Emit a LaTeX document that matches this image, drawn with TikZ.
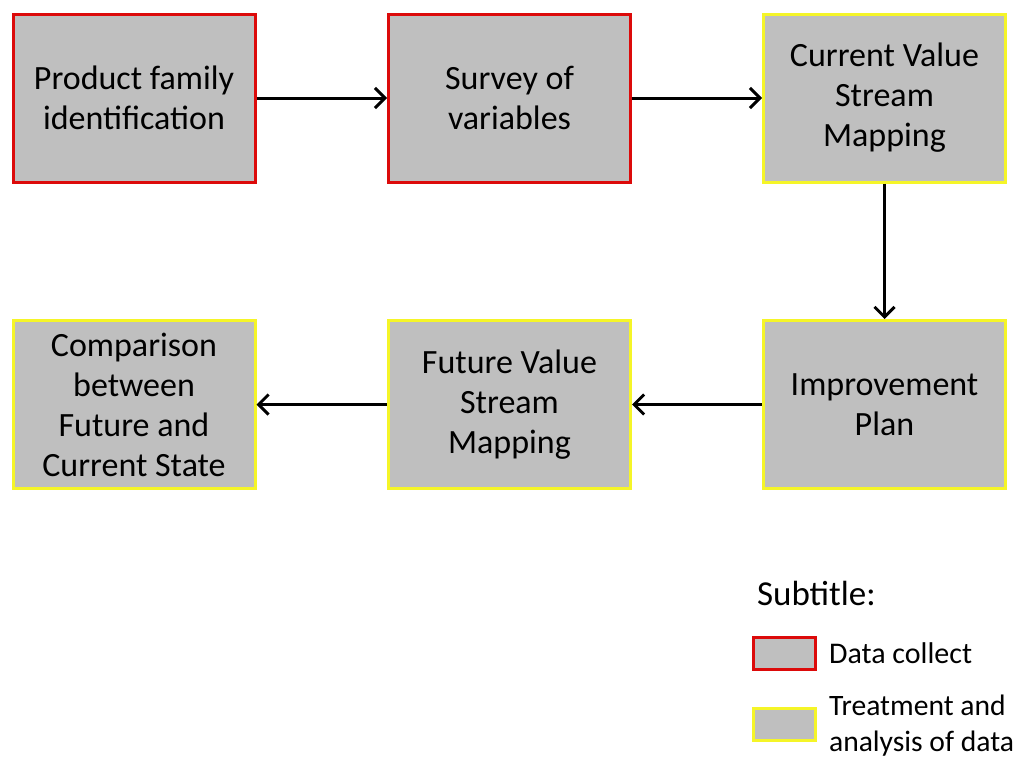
\documentclass[tikz,border=0pt]{standalone}
\usepackage{fontspec}
\setmainfont{Carlito}
\usetikzlibrary{arrows.meta}
\definecolor{boxgray}{RGB}{191,191,191}
\definecolor{collectred}{RGB}{220,10,10}
\definecolor{treatyellow}{RGB}{245,245,40}
\tikzset{
  collectbox/.style={draw=collectred, fill=boxgray, line width=1.5pt, minimum width=121pt, minimum height=84pt, align=center, font=\fontsize{17}{20}\selectfont},
  treatbox/.style={draw=treatyellow, fill=boxgray, line width=1.5pt, minimum width=121pt, minimum height=84pt, align=center, font=\fontsize{17}{20}\selectfont},
  flow/.style={-{Straight Barb[length=5pt,width=10pt]}, line width=1.5pt}
}
\begin{document}
\begin{tikzpicture}[x=0.5pt,y=-0.5pt]
            \useasboundingbox (0,0) rectangle (1019,760);
            \node[collectbox] (A) at (134,98) {Product family\\identification};
            \node[collectbox] (B) at (509.5,98) {Survey of\\variables};
            \node[treatbox] (C) at (884.5,98) {Current Value\\Stream\\Mapping};
            \node[treatbox] (D) at (884.5,404.5) {Improvement\\Plan};
            \node[treatbox] (E) at (509.5,404.5) {Future Value\\Stream\\Mapping};
            \node[treatbox] (F) at (134,404.5) {Comparison\\between\\Future and\\Current State};

            \draw[flow] (A) -- (B);
            \draw[flow] (B) -- (C);
            \draw[flow] (C) -- (D);
            \draw[flow] (D) -- (E);
            \draw[flow] (E) -- (F);

            % subtitle
            \node[anchor=west, font=\fontsize{17.5}{20}\selectfont] (sub) at (750,593) {Subtitle:};
            \node[collectbox, minimum width=31pt, minimum height=16pt, line width=1.2pt] (L1) at (784.5,653.5) {};
            \node[treatbox, minimum width=31pt, minimum height=16pt, line width=1.2pt] (L2) at (784.5,724.5) {};
            \node[anchor=west, font=\fontsize{15}{18.5}\selectfont] (T1) at (822,653.5) {Data collect};
            \node[anchor=west, align=left, font=\fontsize{14.8}{18}\selectfont] (T2) at (822,726) {Treatment and\\analysis of data};
        \end{tikzpicture}
\end{document}
